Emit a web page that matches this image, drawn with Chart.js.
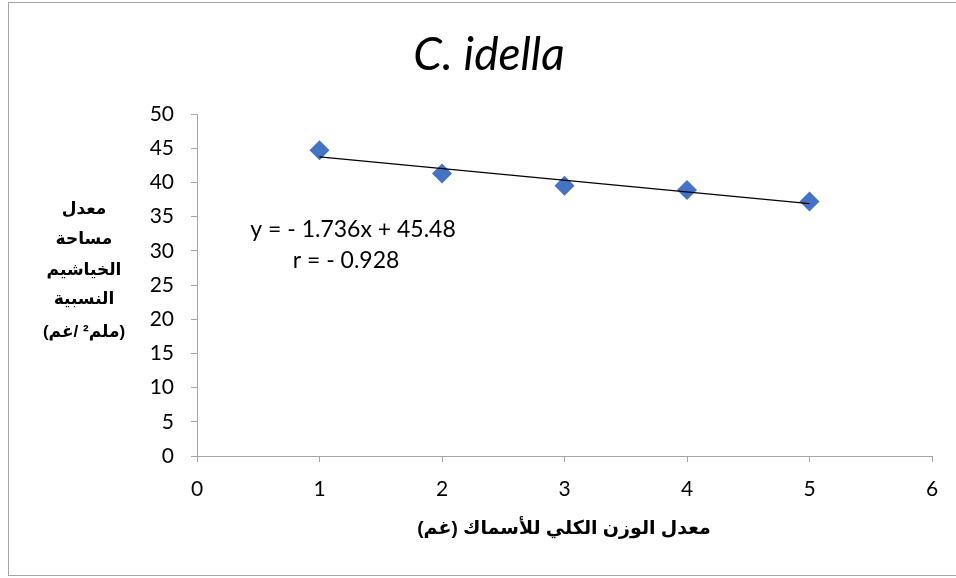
<!DOCTYPE html>
<html>
<head>
<meta charset="utf-8">
<script src="https://cdn.jsdelivr.net/npm/chart.js@4.4.0/dist/chart.umd.min.js"></script>
<style>
  html, body { margin:0; padding:0; background:#fff; }
  #wrap { position:relative; width:956px; height:578px; }
  #frame { position:absolute; left:8px; top:2px; width:960px; height:574px; border:1px solid #a6a6a6; box-sizing:border-box; }
  canvas { position:absolute; left:0; top:0; }
</style>
</head>
<body>
<div id="wrap">
  <div id="frame"></div>
  <canvas id="c" width="956" height="578"></canvas>
</div>
<script>
// data
const weights   = [1, 2, 3, 4, 5];
const gillArea  = [44.7, 41.3, 39.5, 38.9, 37.2];
const trendX    = [1, 5];
const trendY    = [43.74, 36.9];
const xTicks    = [0, 1, 2, 3, 4, 5, 6];
const yTicks    = [0, 5, 10, 15, 20, 25, 30, 35, 40, 45, 50];

const chartTitle = 'C. idella';
const yTitle     = ['معدل', 'مساحة', 'الخياشيم', 'النسبية', '(ملم² /غم)'];
const xTitle     = 'معدل الوزن الكلي للأسماك (غم)';
const eqLines    = ['y = - 1.736x + 45.48', 'r = - 0.928'];

const tickFont = { family: 'Lato, Carlito, sans-serif', size: 21 };
const axisCol  = '#a6a6a6';

const textPlugin = {
  id: 'texts',
  afterDraw(chart) {
    const ctx = chart.ctx;
    const ca  = chart.chartArea;
    ctx.save();
    ctx.fillStyle = '#000';
    ctx.textAlign = 'center';
    ctx.textBaseline = 'alphabetic';

    ctx.font = 'italic 46px Lato, Carlito, sans-serif';
    ctx.fillText(chartTitle, 489, 70);

    ctx.font = '23px Lato, Carlito, sans-serif';
    ctx.fillText(eqLines[0], 353, 237);
    ctx.fillText(eqLines[1], 346, 268);

    ctx.direction = 'rtl';
    ctx.font = 'bold 17px Arial, "DejaVu Sans", sans-serif';
    const ys = [214, 244, 275, 304, 337];
    yTitle.forEach((t, i) => ctx.fillText(t, 84, ys[i]));
    ctx.font = 'bold 19px Arial, "DejaVu Sans", sans-serif';
    ctx.fillText(xTitle, 564, 534);
    ctx.restore();
  }
};

new Chart(document.getElementById('c'), {
  type: 'scatter',
  data: {
    datasets: [
      {
        data: weights.map((x, i) => ({ x, y: gillArea[i] })),
        pointStyle: 'rectRot',
        pointRadius: 10,
        pointHoverRadius: 10,
        backgroundColor: '#4472c4',
        borderColor: '#4472c4',
        borderWidth: 0,
        order: 1,
      },
      {
        type: 'line',
        data: trendX.map((x, i) => ({ x, y: trendY[i] })),
        borderColor: '#000',
        borderWidth: 1.3,
        pointRadius: 0,
        fill: false,
        order: 0,
      },
    ],
  },
  options: {
    responsive: false,
    animation: false,
    events: [],
    layout: { padding: { left: 0, right: 24, top: 114, bottom: 0 } },
    plugins: { legend: { display: false }, tooltip: { enabled: false }, title: { display: false } },
    scales: {
      x: {
        type: 'linear',
        min: 0, max: 6,
        afterBuildTicks: s => { s.ticks = xTicks.map(v => ({ value: v })); },
        afterFit: s => { s.height = 122; },
        grid: { drawOnChartArea: false, drawTicks: true, tickLength: 6, color: axisCol },
        border: { display: true, color: axisCol, width: 1 },
        ticks: { color: '#000', font: tickFont, padding: 15, maxRotation: 0 },
      },
      y: {
        type: 'linear',
        min: 0, max: 50,
        afterBuildTicks: s => { s.ticks = yTicks.map(v => ({ value: v })); },
        afterFit: s => { s.width = 197; },
        grid: { drawOnChartArea: false, drawTicks: true, tickLength: 6, color: axisCol },
        border: { display: true, color: axisCol, width: 1 },
        ticks: { color: '#000', font: tickFont, padding: 17 },
      },
    },
  },
  plugins: [textPlugin],
});
</script>
</body>
</html>
